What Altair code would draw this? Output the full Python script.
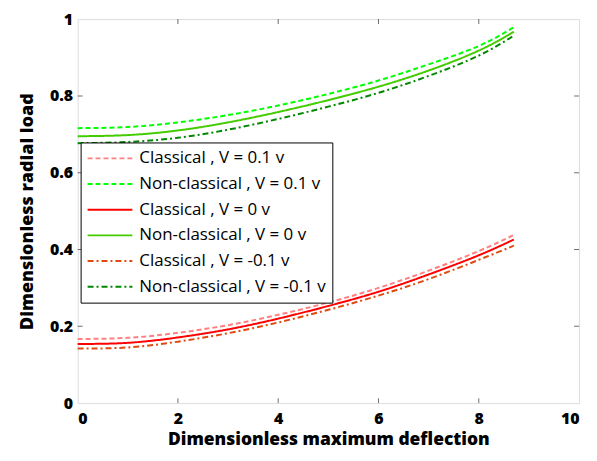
import altair as alt
import pandas as pd

x_vals = [0, 1, 2, 3, 4, 5, 6, 7, 8, 8.7]

series_names = [
    "Classical , V = 0.1 v",
    "Non-classical , V = 0.1 v",
    "Classical , V = 0 v",
    "Non-classical , V = 0 v",
    "Classical , V = -0.1 v",
    "Non-classical , V = -0.1 v",
]

classical_p01 = [0.167, 0.170, 0.183, 0.203, 0.230, 0.262, 0.300, 0.345, 0.396, 0.438]
nonclassical_p01 = [0.716, 0.719, 0.731, 0.750, 0.775, 0.805, 0.840, 0.882, 0.930, 0.979]
classical_0 = [0.154, 0.157, 0.171, 0.192, 0.220, 0.253, 0.290, 0.335, 0.385, 0.426]
nonclassical_0 = [0.695, 0.698, 0.710, 0.731, 0.758, 0.789, 0.824, 0.866, 0.918, 0.967]
classical_m01 = [0.142, 0.145, 0.160, 0.182, 0.210, 0.243, 0.280, 0.323, 0.373, 0.410]
nonclassical_m01 = [0.677, 0.680, 0.691, 0.712, 0.740, 0.772, 0.808, 0.852, 0.905, 0.957]

series_values = [classical_p01, nonclassical_p01, classical_0,
                 nonclassical_0, classical_m01, nonclassical_m01]

colors = ["#FF8080", "#00FF00", "#FF0000", "#44CC00", "#E04A10", "#008800"]
dashes = [[5, 3], [5, 3], [1, 0], [1, 0], [6, 3, 2, 3], [6, 3, 2, 3]]

x_ticks = [0, 2, 4, 6, 8, 10]
y_ticks = [0, 0.2, 0.4, 0.6, 0.8, 1]

rows = []
for name, vals in zip(series_names, series_values):
    for xv, yv in zip(x_vals, vals):
        rows.append({"x": xv, "y": yv, "series": name})
df = pd.DataFrame(rows)

FONT = "Open Sans"
LFONT = "Open Sans"

xscale = alt.Scale(domain=[0, 10], nice=False)
yscale = alt.Scale(domain=[0, 1], nice=False)

H = 386
W = 504

legend_cfg = dict(title=None, orient="none", legendX=3, legendY=124,
                  symbolType="stroke", symbolSize=2025,
                  symbolStrokeWidth=2, clipHeight=20,
                  rowPadding=5.8, padding=6,
                  labelFont=LFONT, labelFontSize=17,
                  labelColor="black", labelLimit=300,
                  strokeColor="black", fillColor="white",
                  cornerRadius=0, labelOffset=6)

lines = alt.Chart(df).mark_line(strokeWidth=2, interpolate="natural").encode(
    x=alt.X("x:Q", scale=xscale,
            axis=alt.Axis(title="Dimensionless maximum deflection", values=x_ticks,
                          format="d", grid=False, ticks=False, domain=False,
                          labelFont=FONT, labelFontWeight=800, labelFontSize=16,
                          labelColor="black", labelPadding=7,
                          titleFont=FONT, titleFontWeight=800, titleFontSize=17.5,
                          titleColor="black", titlePadding=5)),
    y=alt.Y("y:Q", scale=yscale,
            axis=alt.Axis(title="Dimensionless radial load", values=y_ticks,
                          grid=False, ticks=False, domain=False,
                          labelFont=FONT, labelFontWeight=800, labelFontSize=16,
                          labelColor="black", labelPadding=5,
                          labelExpr="datum.value == 0 ? '0' : datum.value == 1 ? '1' : format(datum.value, '.1f')",
                          titleFont=FONT, titleFontWeight=800, titleFontSize=18,
                          titleColor="black", titlePadding=13)),
    color=alt.Color("series:N", sort=series_names,
                    scale=alt.Scale(domain=series_names, range=colors),
                    legend=alt.Legend(**legend_cfg)),
    strokeDash=alt.StrokeDash("series:N", sort=series_names,
                              scale=alt.Scale(domain=series_names, range=dashes),
                              legend=alt.Legend(**legend_cfg)),
)

xt = pd.DataFrame({"t": [2, 4, 6, 8]})
yt = pd.DataFrame({"t": [0.2, 0.4, 0.6, 0.8]})

tick_bottom = alt.Chart(xt).mark_tick(color="#333333", size=10, thickness=1, clip=True).encode(
    x=alt.X("t:Q", scale=xscale), y=alt.value(H))
tick_top = alt.Chart(xt).mark_tick(color="#333333", size=10, thickness=1, clip=True).encode(
    x=alt.X("t:Q", scale=xscale), y=alt.value(0))
tick_left = alt.Chart(yt).mark_tick(color="#333333", size=10, thickness=1, clip=True).encode(
    y=alt.Y("t:Q", scale=yscale), x=alt.value(0))
tick_right = alt.Chart(yt).mark_tick(color="#333333", size=10, thickness=1, clip=True).encode(
    y=alt.Y("t:Q", scale=yscale), x=alt.value(W))

chart = alt.layer(lines, tick_bottom, tick_top, tick_left, tick_right).properties(
    width=W, height=H,
    autosize=alt.AutoSizeParams(type="none"),
    padding={"left": 70, "top": 10, "right": 10, "bottom": 50},
).configure_view(stroke="#333333", strokeWidth=1.5).configure(background="white")

chart.save("out.html", embed_options={"renderer": "svg", "actions": False})
